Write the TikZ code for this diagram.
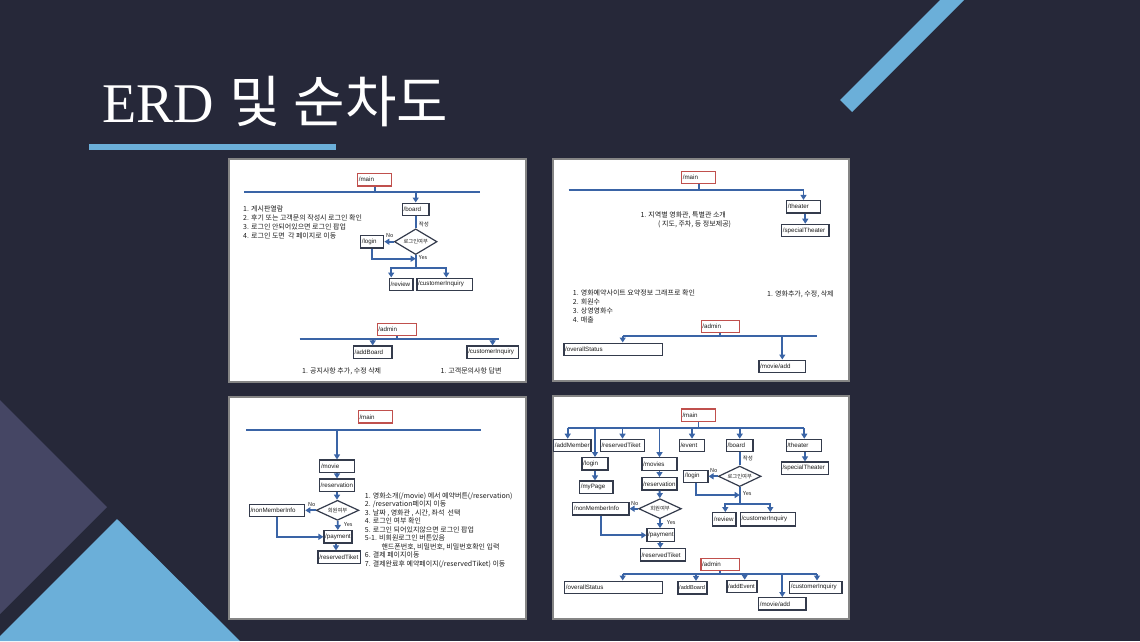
\documentclass[tikz,border=0pt]{standalone}
\usepackage{fontspec}
\usepackage{xcolor}
\usetikzlibrary{arrows.meta,shapes.geometric}
\setmainfont{Liberation Sans}
\newfontfamily\kr{Noto Sans CJK KR}
\newfontfamily\ttlserif{Liberation Serif}
\definecolor{slbg}{HTML}{262839}
\definecolor{slsky}{HTML}{6BAFD9}
\definecolor{slplum}{HTML}{454664}
\definecolor{flblue}{HTML}{3A64A6}
\definecolor{flbox}{HTML}{343B4C}
\definecolor{flred}{HTML}{C0504D}
\definecolor{flgray}{HTML}{858585}
\definecolor{fltext}{HTML}{1C1C1C}

\begin{document}
\begin{tikzpicture}[x=1pt, y=-1pt,
  panel/.style={draw=flgray, line width=1.6pt, fill=white},
  pg/.style={draw=flbox, line width=1.2pt, fill=white, text width=#1, align=left, inner xsep=1.2pt, inner ysep=0pt, minimum height=12.4pt, text=fltext, font=\fontsize{6.2pt}{7pt}\selectfont},
  rt/.style={pg=#1, draw=flred},
  dec/.style={diamond, draw=flbox, line width=1.2pt, fill=white, aspect=2, inner sep=0pt, minimum width=42.7pt, minimum height=20.5pt, text=fltext, font=\kr\fontsize{5.3pt}{6pt}\selectfont},
  arr/.style={-{Triangle[length=5pt,width=6pt]}, line width=1.9pt, draw=flblue},
  ln/.style={line width=1.9pt, draw=flblue},
  note/.style={font=\kr\fontsize{7pt}{9pt}\selectfont, align=left, inner sep=0pt, anchor=west, text=fltext},
  tag/.style={font=\kr\fontsize{5.5pt}{6pt}\selectfont, inner sep=0pt, anchor=west, text=fltext}
]
\useasboundingbox (0,0) rectangle (1140,641);
% slide background
\fill[slbg] (0,0) rectangle (1140,641);
\fill[slplum] (0,400) -- (107,507) -- (0,614) -- cycle;
\fill[slsky] (117,519) -- (240,641) -- (0,641) -- (0,636) -- cycle;
\fill[slsky] (840,100) -- (852,112) -- (964,0) -- (940,0) -- cycle;
\fill[slsky] (89,144) rectangle (336,149.5);
\node[anchor=base west, inner sep=0pt, text=white, font=\fontsize{56pt}{60pt}\selectfont] (ttl) at (102,122) {{\ttlserif ERD} {\kr 및 순차도}};

% --- panel 1: board and admin ---
\draw[panel] (229,159) rectangle (526,382);
\node[rt=31.7pt] (main1) at (374.7,179.7) {/main};
\coordinate (b1a) at (244,192.3);
\coordinate (b1b) at (480,192.3);
\node[pg=24.3pt] (board1) at (415.7,209.3) {/board};
\node[dec, minimum height=25.7pt] (dia1) at (415.7,241.7) {로그인여부};
\node[pg=20.7pt] (login1) at (372.2,241.7) {/login};
\node[pg=21.3pt] (rv1) at (401.2,284.3) {/review};
\node[pg=53.3pt] (ci1) at (444.8,284.3) {/customerInquiry};
\coordinate (m1) at (415.7,258.7);
\coordinate (j1) at (415.7,268);
\draw[ln] (main1) -- (main1 |- b1a);
\draw[ln] (b1a) -- (b1b);
\draw[arr] (board1 |- b1a) -- (board1);
\draw[ln] (board1) -- (dia1);
\draw[arr] (dia1) -- (login1);
\draw[arr] (login1) |- (m1);
\draw[ln] (dia1) -- (j1);
\draw[arr] (j1) -| ([xshift=-10pt]rv1.north);
\draw[arr] (j1) -| ([xshift=1.5pt]ci1.north);
\node[tag] (w1) at (418.7,224.7) {작성};
\node[tag] (no1) at (386,235.3) {No};
\node[tag] (ys1) at (418.7,257.3) {Yes};
\node[note, anchor=north west] (n1) at (243,205.3) {1. 게시판열람\\2. 후기 또는 고객문의 작성시 로그인 확인\\3. 로그인 안되어있으면 로그인 팝업\\4. 로그인 도면\ \ 각 페이지로 이동};
\node[rt=36.7pt] (admin1) at (396.8,329.5) {/admin};
\coordinate (b1c) at (299.7,339);
\coordinate (b1d) at (498.7,339);
\node[pg=36.3pt] (ab1) at (372.7,352.2) {/addBoard};
\node[pg=48.7pt] (ci1b) at (492.6,352.2) {/customerInquiry};
\draw[ln] (admin1) -- (admin1 |- b1c);
\draw[ln] (b1c) -- (b1d);
\draw[arr] (ab1 |- b1c) -- (ab1);
\draw[arr] (ci1b |- b1c) -- (ci1b);
\node[note] (n1b) at (302,371.3) {1. 공지사항 추가, 수정 삭제};
\node[note] (n1c) at (440.3,371.3) {1. 고객문의사항 답변};

% --- panel 2: theater and admin ---
\draw[panel] (553,159) rectangle (849,381);
\node[rt=31.7pt] (main2) at (698.7,177.5) {/main};
\coordinate (b2a) at (568.7,190.3);
\node[pg=31.4pt] (th2) at (803.5,206.7) {/theater};
\node[pg=45pt] (st2) at (805.3,230.5) {/specialTheater};
\draw[ln] (main2) -- (main2 |- b2a);
\draw[arr] (b2a) -| (th2);
\draw[arr] (th2.south -| st2) -- (st2);
\node[note] (n2a) at (640.3,215.3) {1. 지역별 영화관, 특별관 소개};
\node[note] (n2b) at (658,224) {( 지도, 주차, 등 정보제공)};
\node[note, anchor=north west] (n2c) at (572.7,289.7) {1. 영화예약사이트 요약정보 그래프로 확인\\2. 회원수\\3. 상영영화수\\4. 매출};
\node[note] (n2d) at (767,294.7) {1. 영화추가, 수정, 삭제};
\node[rt=35.7pt] (admin2) at (720.3,326.5) {/admin};
\coordinate (b2c) at (622.7,336);
\coordinate (b2d) at (817,336);
\node[pg=96pt] (ovs2) at (613.2,349.3) {/overallStatus};
\node[pg=44.3pt] (ma2) at (782.3,366.3) {/movie/add};
\draw[ln] (admin2) -- (admin2 |- b2c);
\draw[ln] (b2c) -- (b2d);
\draw[arr] (b2c) -- (b2c |- ovs2.north);
\draw[arr] (ma2 |- b2c) -- (ma2);

% --- panel 3: reservation flow ---
\draw[panel] (229,397) rectangle (526,619);
\node[rt=32pt] (main3) at (375.5,416.8) {/main};
\coordinate (b3a) at (246.3,429.7);
\coordinate (b3b) at (481.3,429.7);
\node[pg=32pt] (mv3) at (337,466.2) {/movie};
\node[pg=32.6pt] (res3) at (337,485.2) {/reservation};
\node[dec, minimum height=20pt] (dia3) at (337.5,510.3) {회원여부};
\node[pg=53pt] (nmi3) at (277,510.3) {/nonMemberInfo};
\node[pg=25.6pt] (pay3) at (338,536.8) {/payment};
\node[pg=39.9pt] (rt3) at (339.2,557.2) {/reservedTiket};
\draw[ln] (b3a) -- (b3b);
\draw[arr] (mv3 |- b3a) -- (mv3);
\draw[arr] (mv3) -- (res3);
\draw[arr] (res3.south) -- (res3.south |- dia3.north);
\draw[arr] (dia3) -- (nmi3);
\draw[arr] (nmi3) |- (pay3);
\draw[arr] (dia3) -- (pay3);
\draw[arr] ([xshift=-2pt]pay3.south) -- ([xshift=-2pt]pay3.south |- rt3.north);
\node[tag] (no3) at (308,504.7) {No};
\node[tag] (ys3) at (344,524.3) {Yes};
\node[note, anchor=north west, font=\kr\fontsize{7pt}{8.5pt}\selectfont] (n3) at (364.7,492.3) {1. 영화소개(/movie) 에서 예약버튼(/reservation)\\2. /reservation페이지 이동\\3. 날짜 , 영화관 , 시간, 좌석\ \ 선택\\4. 로그인 여부 확인\\5. 로그인 되어있지않으면 로그인 팝업\\5-1. 비회원로그인 버튼있음\\\hspace*{16.6pt}핸드폰번호, 비밀번호, 비밀번호확인 입력\\6. 결제 페이지이동\\7. 결제완료후 예약페이지(/reservedTiket) 이동};

% --- panel 4: full site map ---
\draw[panel] (553,396) rectangle (849,619);
\node[rt=32pt] (main4) at (698.5,415.2) {/main};
\coordinate (b4a) at (567.7,428);
\coordinate (b4b) at (804.3,428);
\node[pg=34.9pt] (am4) at (572.3,445.5) {/addMember};
\node[pg=23.6pt] (lg4) at (595,463.8) {/login};
\node[pg=30.9pt] (my4) at (596.3,487.2) {/myPage};
\node[pg=42pt] (rt4a) at (622.5,445.5) {/reservedTiket};
\node[pg=32.6pt] (mv4) at (659.5,464) {/movies};
\node[pg=23pt] (ev4) at (692,445.5) {/event};
\node[pg=24.3pt] (bd4) at (739.7,445.5) {/board};
\node[pg=32.6pt] (th4) at (803.8,445.5) {/theater};
\node[pg=45pt] (st4) at (805,468.2) {/specialTheater};
\node[pg=32.6pt] (res4) at (659.5,483.8) {/reservation};
\node[dec, minimum height=20pt] (dia4a) at (660,508.7) {회원여부};
\node[pg=53.9pt] (nmi4) at (600.8,508.7) {/nonMemberInfo};
\node[pg=25.3pt, minimum height=13pt] (pay4) at (660.8,535.2) {/payment};
\node[pg=42.6pt] (rt4b) at (662.8,554.8) {/reservedTiket};
\node[dec] (dia4b) at (739.7,476.3) {로그인여부};
\node[pg=21.9pt] (lg4b) at (695.8,476.3) {/login};
\node[pg=20.9pt, minimum height=13.3pt] (rv4) at (724.3,519.3) {/review};
\node[pg=52.6pt, minimum height=13.3pt] (ci4) at (767.8,519.3) {/customerInquiry};
\coordinate (m4) at (739.7,495);
\coordinate (j4) at (739.7,504.3);
\draw[ln] (main4) -- (main4 |- b4a);
\draw[ln] (b4a) -- (b4b);
\draw[arr] (b4a) -- (b4a |- am4.north);
\draw[arr] (b4b) -- (b4b |- th4.north);
\draw[arr] (lg4 |- b4a) -- (lg4);
\draw[arr] (rt4a |- b4a) -- (rt4a);
\draw[arr] (mv4 |- b4a) -- (mv4);
\draw[arr] (ev4 |- b4a) -- (ev4);
\draw[arr] (bd4 |- b4a) -- (bd4);
\draw[arr] (lg4) -- (lg4 |- my4.north);
\draw[arr] (mv4) -- (res4);
\draw[arr] (res4) -- (dia4a);
\draw[arr] (dia4a) -- (nmi4);
\draw[arr] (nmi4) |- (pay4);
\draw[arr] (dia4a) -- (dia4a |- pay4.north);
\draw[arr] ([xshift=-0.5pt]pay4.south) -- ([xshift=-0.5pt]pay4.south |- rt4b.north);
\draw[arr] (th4.south -| st4) -- (st4);
\draw[ln] (bd4) -- (dia4b);
\draw[arr] (dia4b) -- (lg4b);
\draw[arr] (lg4b) |- (m4);
\draw[ln] (dia4b) -- (j4);
\draw[arr] (j4) -| ([xshift=1pt]rv4.north);
\draw[arr] (j4) -| ([xshift=2.5pt]ci4.north);
\node[tag] (w4) at (742.7,458.7) {작성};
\node[tag] (no4b) at (710,471) {No};
\node[tag] (ys4b) at (743,493.3) {Yes};
\node[tag] (no4a) at (631,503.3) {No};
\node[tag] (ys4a) at (667,522.7) {Yes};
\node[rt=36.3pt] (admin4) at (720.3,564.3) {/admin};
\coordinate (b4c) at (622.7,574.3);
\coordinate (b4d) at (817,574.3);
\node[pg=95.6pt] (ovs4) at (613.7,587.3) {/overallStatus};
\node[pg=26.6pt, font=\fontsize{5.6pt}{6pt}\selectfont] (ab4) at (692.5,587.7) {/addBoard};
\node[pg=27.6pt, font=\fontsize{5.9pt}{6pt}\selectfont] (ae4) at (742,586.5) {/addEvent};
\node[pg=44.9pt] (ma4) at (782.3,603.8) {/movie/add};
\node[pg=49.9pt] (ci4b) at (815.8,587.3) {/customerInquiry};
\draw[ln] (admin4) -- (admin4 |- b4c);
\draw[ln] (b4c) -- (b4d);
\draw[arr] (b4c) -- (b4c |- ovs4.north);
\draw[arr] (b4d) -- (b4d |- ci4b.north);
\draw[arr] ([xshift=3.5pt]ab4.north |- b4c) -- ([xshift=3.5pt]ab4.north);
\draw[arr] ([xshift=2.7pt]ae4.north |- b4c) -- ([xshift=2.7pt]ae4.north);
\draw[arr] (ma4 |- b4c) -- (ma4);
\end{tikzpicture}
\end{document}
